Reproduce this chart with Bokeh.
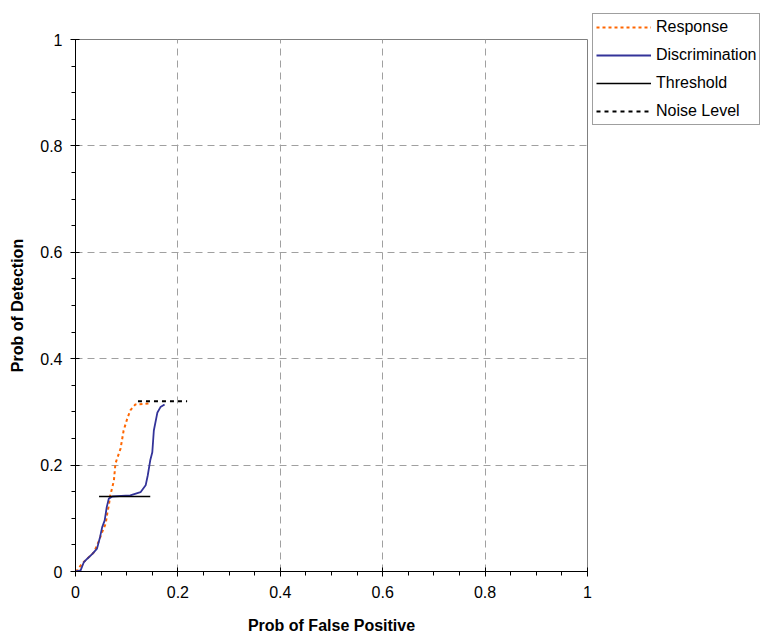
from bokeh.plotting import figure
from bokeh.models import Range1d, FixedTicker, Legend, LegendItem
from bokeh.embed import file_html
from bokeh.resources import INLINE

# ---- data ----
resp_x = [0.0, 0.003, 0.013, 0.026, 0.036, 0.046, 0.052, 0.059, 0.062, 0.065, 0.068,
          0.075, 0.078, 0.088, 0.094, 0.101, 0.107, 0.117, 0.146]
resp_y = [0.0, 0.002, 0.015, 0.027, 0.036, 0.058, 0.074, 0.090, 0.109, 0.124, 0.143,
          0.171, 0.203, 0.231, 0.265, 0.287, 0.303, 0.314, 0.316]

disc_x = [0.0, 0.010, 0.016, 0.023, 0.033, 0.042, 0.048, 0.052, 0.057, 0.061, 0.065,
          0.072, 0.107, 0.127, 0.137, 0.141, 0.146, 0.150, 0.153, 0.160, 0.166, 0.174]
disc_y = [0.0, 0.002, 0.017, 0.024, 0.033, 0.043, 0.065, 0.083, 0.096, 0.121, 0.137,
          0.141, 0.143, 0.149, 0.162, 0.180, 0.209, 0.224, 0.265, 0.299, 0.309, 0.314]

thr_x = [0.046, 0.146]
thr_y = [0.141, 0.141]

noise_x = [0.122, 0.218]
noise_y = [0.320, 0.320]

major_ticks = [0, 0.2, 0.4, 0.6, 0.8, 1]
tick_labels = ["0", "0.2", "0.4", "0.6", "0.8", "1"]
minor_ticks = [0.05, 0.1, 0.15, 0.25, 0.3, 0.35, 0.45, 0.5, 0.55, 0.65, 0.7, 0.75,
               0.85, 0.9, 0.95]
grid_ticks = [0.2, 0.4, 0.6, 0.8]

FONT = "Liberation Sans"

p = figure(frame_width=512, frame_height=532, output_backend="svg", toolbar_location=None,
           x_range=Range1d(0, 1), y_range=Range1d(0, 1),
           min_border_left=75, min_border_top=39, min_border_right=173, min_border_bottom=62)
p.outline_line_color = "#808080"
p.outline_line_width = 1
p.background_fill_color = "white"
p.border_fill_color = "white"

for ax in (p.xaxis[0], p.yaxis[0]):
    ax.ticker = FixedTicker(ticks=major_ticks, minor_ticks=minor_ticks)
    ax.major_label_overrides = {t: l for t, l in zip(major_ticks, tick_labels)}
    ax.axis_line_color = "black"
    ax.major_tick_line_color = "black"
    ax.minor_tick_line_color = "black"
    ax.major_tick_in = 4
    ax.major_tick_out = 5
    ax.minor_tick_in = 0
    ax.minor_tick_out = 4
    ax.major_label_text_font = FONT
    ax.major_label_text_font_size = "16px"
    ax.major_label_text_color = "black"
    ax.axis_label_text_font = FONT
    ax.axis_label_text_font_size = "16px"
    ax.axis_label_text_font_style = "bold"
    ax.axis_label_text_color = "black"

p.xaxis.axis_label = "Prob of False Positive"
p.yaxis.axis_label = "Prob of Detection"
p.xaxis.major_label_standoff = 9
p.yaxis.major_label_standoff = 8
p.xaxis.axis_label_standoff = 16
p.yaxis.axis_label_standoff = 11

for g in (p.xgrid[0], p.ygrid[0]):
    g.ticker = FixedTicker(ticks=grid_ticks)
    g.grid_line_color = "#a0a0a0"
    g.grid_line_dash = "7 5"
    g.grid_line_width = 1

r_resp = p.line(resp_x, resp_y, line_color="#FF6600", line_width=2, line_dash="3 3")
r_disc = p.line(disc_x, disc_y, line_color="#333399", line_width=1.8)
r_thr = p.line(thr_x, thr_y, line_color="black", line_width=1.5)
r_noise = p.line(noise_x, noise_y, line_color="black", line_width=2, line_dash="4 4")

legend = Legend(items=[
    LegendItem(label="Response", renderers=[r_resp]),
    LegendItem(label="Discrimination", renderers=[r_disc]),
    LegendItem(label="Threshold", renderers=[r_thr]),
    LegendItem(label="Noise Level", renderers=[r_noise]),
], location=(5, 446))
legend.glyph_width = 55
legend.glyph_height = 20
legend.spacing = 8
legend.padding = 3
legend.margin = 0
legend.label_standoff = 5
legend.label_text_font = FONT
legend.label_text_font_size = "16px"
legend.label_text_color = "black"
legend.border_line_color = "#404040"
legend.border_line_width = 1
legend.background_fill_color = "white"
legend.background_fill_alpha = 1
p.add_layout(legend, "right")

open("out.html", "w").write(file_html(p, INLINE))
